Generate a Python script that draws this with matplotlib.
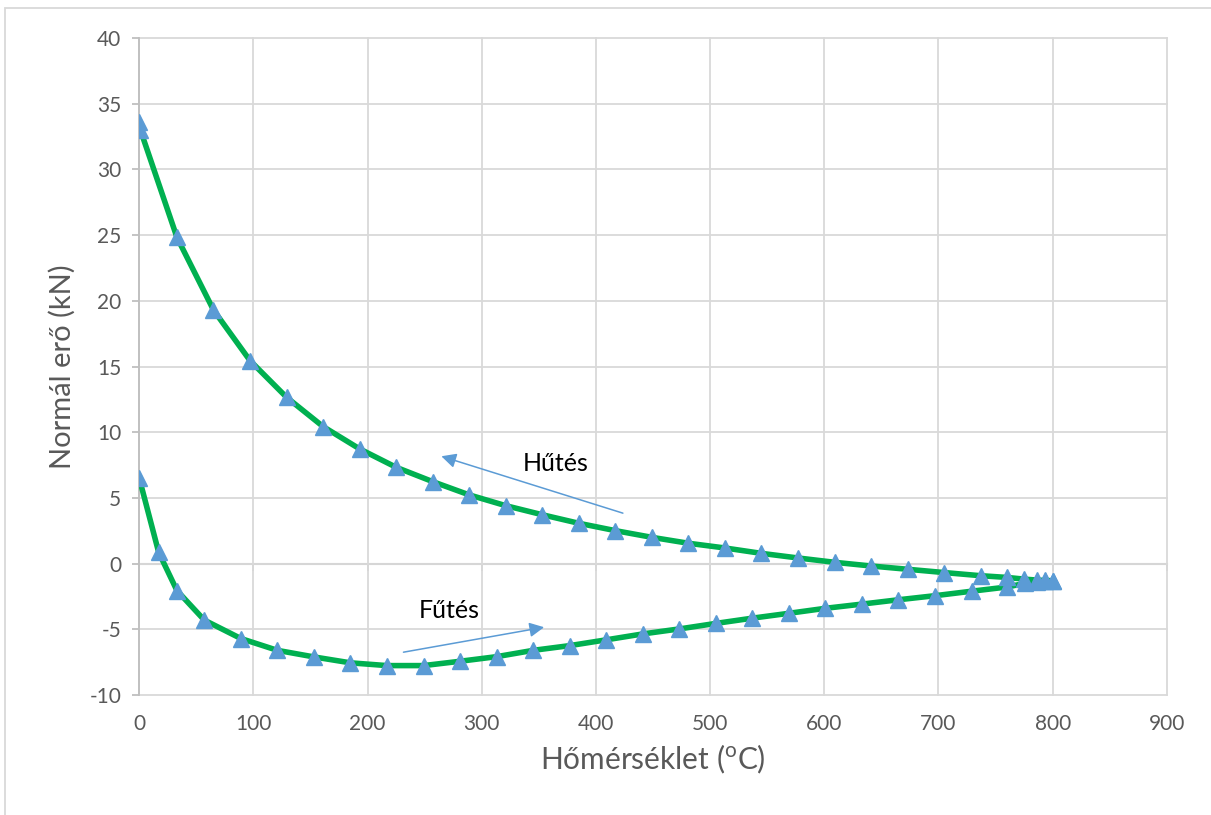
import matplotlib
matplotlib.use("Agg")
import matplotlib.pyplot as plt
from matplotlib.patches import Rectangle

plt.rcParams['font.family'] = ['Lato', 'DejaVu Sans']
plt.rcParams['axes.unicode_minus'] = False

# Heating (Fűtés) branch: temperature (°C) and normal force (kN)
heat_t = [0, 17, 33, 57, 89, 121, 153, 185, 217, 249, 281, 313, 345, 377, 409,
          441, 473, 505, 537, 569, 601, 633, 665, 697, 729, 760, 776, 786, 793, 800]
heat_f = [6.5, 0.86, -2.05, -4.3, -5.7, -6.6, -7.1, -7.55, -7.76, -7.76, -7.43,
          -7.08, -6.6, -6.24, -5.8, -5.35, -4.97, -4.55, -4.15, -3.78, -3.4,
          -3.08, -2.75, -2.44, -2.1, -1.78, -1.5, -1.4, -1.35, -1.32]

# Cooling (Hűtés) branch
cool_t = [800, 793, 786, 775, 760, 737, 705, 673, 641, 609, 577, 545, 513, 481,
          449, 417, 385, 353, 321, 289, 257, 225, 193, 161, 129, 97, 65, 33, 1, 0]
cool_f = [-1.3, -1.28, -1.25, -1.18, -1.05, -0.92, -0.68, -0.43, -0.18, 0.1,
          0.43, 0.78, 1.19, 1.55, 2.0, 2.51, 3.07, 3.72, 4.41, 5.23, 6.24, 7.33,
          8.73, 10.43, 12.66, 15.45, 19.3, 24.83, 33.0, 33.6]

x_ticks = list(range(0, 901, 100))
y_ticks = list(range(-10, 41, 5))

green = '#00b050'
blue = '#5b9bd5'
grid_c = '#d9d9d9'
axis_c = '#bfbfbf'
text_c = '#595959'

fig = plt.figure(figsize=(12.11, 8.15), dpi=100)
ax = fig.add_axes([0.1150, 0.1472, 0.9635 - 0.1150, 0.9534 - 0.1472])

for t, f in [(heat_t, heat_f), (cool_t, cool_f)]:
    ax.plot(t, f, color=green, lw=4, solid_joinstyle='round', zorder=3)
    ax.plot(t, f, ls='none', marker='^', ms=11.5, color=blue, mec=blue, zorder=4)

ax.set_xlim(0, 900)
ax.set_ylim(-10, 40)
ax.set_xticks(x_ticks)
ax.set_yticks(y_ticks)
ax.grid(True, color=grid_c, lw=1.3)
ax.set_axisbelow(True)
for gl in ax.get_xgridlines() + ax.get_ygridlines():
    gl.set_clip_on(False)

for s in ['top', 'right', 'bottom']:
    ax.spines[s].set_visible(False)
ax.spines['left'].set_color(axis_c)
ax.spines['left'].set_linewidth(1.3)
ax.tick_params(axis='y', colors=text_c, labelsize=15, length=5, width=1.3,
               color=axis_c, pad=8)
ax.tick_params(axis='x', colors=text_c, labelsize=15, length=0, pad=14)

# horizontal axis line with ticks crossing at y = 0
y0 = (0 - (-10)) / (40 - (-10))
sec = ax.secondary_xaxis(y0)
sec.set_xticks(x_ticks)
sec.set_xticklabels([])
sec.tick_params(axis='x', length=5, width=1.3, color=axis_c, direction='out')
sec.spines['bottom'].set_color(axis_c)
sec.spines['bottom'].set_linewidth(1.5)

ax.set_xlabel('Hőmérséklet ($^{\\mathregular{o}}$C)', fontsize=21.5, color=text_c,
              labelpad=6)
ax.set_ylabel('Normál erő (kN)', fontsize=21, color=text_c, labelpad=10)

# direction arrows and labels
ax.annotate('', xy=(264.6, 8.17), xytext=(423.6, 3.84),
            arrowprops=dict(arrowstyle='-|>', color=blue, lw=1.1,
                            mutation_scale=22, shrinkA=0, shrinkB=0))
ax.annotate('', xy=(354.6, -4.84), xytext=(231.4, -6.74),
            arrowprops=dict(arrowstyle='-|>', color=blue, lw=1.1,
                            mutation_scale=22, shrinkA=0, shrinkB=0))
ax.text(365, 7.6, 'Hűtés', fontsize=18, color='black', ha='center', va='center')
ax.text(271.6, -3.55, 'Fűtés', fontsize=18, color='black', ha='center', va='center')

fig.patches.append(Rectangle((5 / 1211, -0.01), 1.1, 1 - 8 / 815 + 0.01,
                             transform=fig.transFigure, fill=False,
                             ec=grid_c, lw=1.3))

fig.savefig('out.png', dpi=100)
